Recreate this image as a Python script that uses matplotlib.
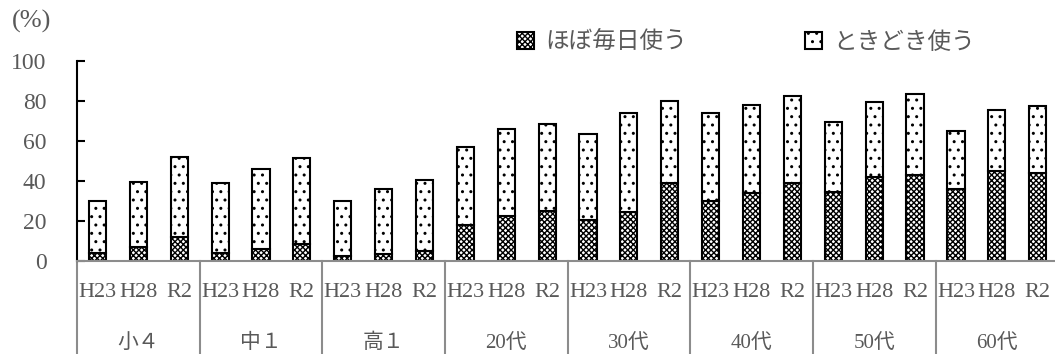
import matplotlib.pyplot as plt
import matplotlib.transforms as mtransforms
import numpy as np

plt.rcParams['font.family'] = ['Liberation Serif', 'Noto Sans CJK JP']
plt.rcParams['hatch.linewidth'] = 1.0

groups = ['小４', '中１', '高１', '20代', '30代', '40代', '50代', '60代']
years = ['H23', 'H28', 'R2']

# ほぼ毎日使う
daily = [3.9, 7.2, 12.2,
         3.9, 6.2, 8.5,
         2.5, 3.5, 4.8,
         17.8, 22.5, 24.8,
         20.5, 24.5, 39.2,
         29.8, 33.8, 39.2,
         34.5, 41.8, 42.8,
         36.2, 45.2, 44.2]
# ほぼ毎日 + ときどき (bar totals)
total = [30.2, 39.5, 52.2,
         38.8, 45.8, 51.5,
         30.2, 36.2, 40.5,
         57.2, 66.2, 68.5,
         63.5, 73.8, 79.8,
         74.2, 77.8, 82.5,
         69.7, 79.3, 83.5,
         65.2, 75.3, 77.5]
sometimes = [t - d for t, d in zip(total, daily)]

gray = '#595959'
x = np.arange(len(daily))

fig = plt.figure(figsize=(10.55, 3.54), dpi=100)
ax = fig.add_axes([0.073, 0.2627, 0.93, 0.565])

b1 = ax.bar(x, daily, width=0.42, color='white', edgecolor='black',
            hatch='xxxxxx', linewidth=1.5, label='ほぼ毎日使う')
b2 = ax.bar(x, sometimes, width=0.42, bottom=daily, color='white',
            edgecolor='black', hatch='..', linewidth=1.5, label='ときどき使う')

ax.set_xlim(-0.5, len(daily) - 0.5)
ax.set_ylim(0, 100)
ax.set_yticks(range(0, 101, 20))
ax.tick_params(axis='y', direction='in', length=6, width=1.5,
               labelsize=17, labelcolor=gray, pad=22)
ax.set_xticks(x)
ax.set_xticklabels(years * len(groups))
ax.tick_params(axis='x', length=0, labelsize=16, labelcolor=gray, pad=16)

for s in ['top', 'right']:
    ax.spines[s].set_visible(False)
ax.spines['left'].set_linewidth(1.5)
ax.spines['bottom'].set_color('#8c8c8c')
ax.spines['bottom'].set_linewidth(1.5)

# group separators and group names below the year labels
trans = mtransforms.blended_transform_factory(ax.transData, ax.transAxes)
for g in range(len(groups) + 1):
    ax.plot([g * 3 - 0.5] * 2, [0, -0.48], transform=trans, color='#8c8c8c',
            linewidth=1.5, clip_on=False)
for g, name in enumerate(groups):
    ax.text(g * 3 + 1, -0.41, name, transform=trans, ha='center', va='center',
            fontsize=15, color=gray)

fig.text(0.011, 0.94, '(%)', fontsize=19, color=gray, ha='left', va='center')

ax.legend(handles=[b1, b2], loc='center', bbox_to_anchor=(0.682, 1.09),
          ncol=2, frameon=False, fontsize=17, labelcolor=gray,
          handlelength=0.7, handleheight=0.7, handletextpad=0.5,
          columnspacing=5.0)

fig.savefig('out.png', dpi=100)
